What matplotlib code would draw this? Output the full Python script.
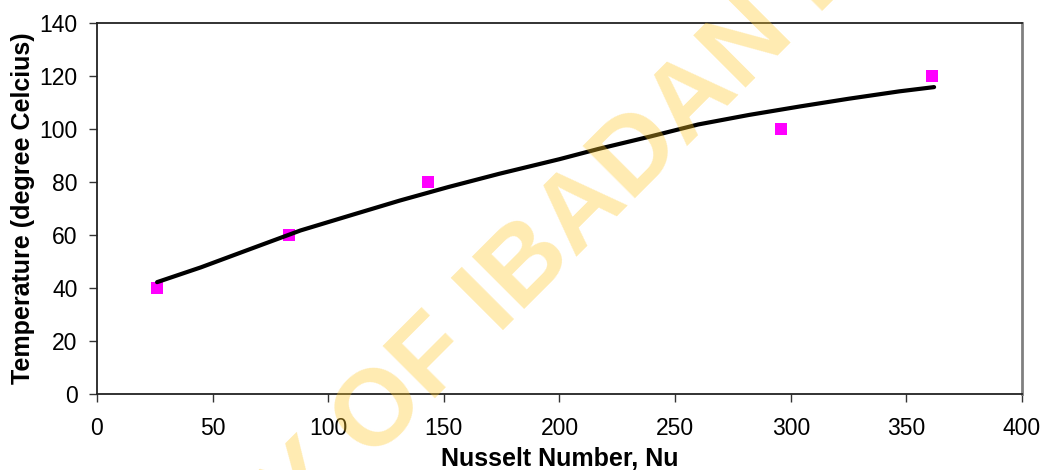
import matplotlib
matplotlib.use('Agg')
import matplotlib.pyplot as plt

# ==== data ====
nu_points = [26, 83, 143, 296, 361]
temp_points = [40, 60, 80, 100, 120]

nu_fit = [26, 45, 66, 88, 110, 131, 152, 174, 200, 217, 239, 260, 282, 304, 325, 347, 362]
temp_fit = [42.1, 47.7, 54.5, 61.6, 67.4, 72.9, 78.0, 83.0, 88.5, 92.4, 97.0, 101.6,
            105.2, 108.4, 111.3, 114.1, 115.7]

x_ticks = [0, 50, 100, 150, 200, 250, 300, 350, 400]
y_ticks = [0, 20, 40, 60, 80, 100, 120, 140]

plt.rcParams['font.family'] = ['Liberation Sans', 'DejaVu Sans']

fig = plt.figure(figsize=(10.47, 4.70), dpi=100)
ax = fig.add_axes([0.0926, 0.1623, 0.9761 - 0.0926, 0.9517 - 0.1623])

ax.plot(nu_points, temp_points, linestyle='none', marker='s', markersize=8.6,
        color='#FF00FF', markeredgewidth=0, zorder=2)
ax.plot(nu_fit, temp_fit, color='black', lw=3, solid_capstyle='round', zorder=3)

ax.set_xlim(0, 400)
ax.set_ylim(0, 140)
ax.set_xticks(x_ticks)
ax.set_yticks(y_ticks)
ax.tick_params(axis='both', direction='out', length=6, width=1, color='#333333',
               labelsize=16.5)
ax.tick_params(axis='x', pad=11)
ax.tick_params(axis='y', pad=8)

for side in ['left', 'bottom', 'top']:
    ax.spines[side].set_color('#222222')
    ax.spines[side].set_linewidth(1.3)
ax.spines['right'].set_color('#808080')
ax.spines['right'].set_linewidth(2)

ax.set_xlabel('Nusselt Number, Nu', fontsize=18, fontweight='bold', labelpad=4.5)
ax.set_ylabel('Temperature (degree Celcius)', fontsize=18, fontweight='bold', labelpad=3)

# watermark
fig.text(0.481, 0.382, 'UNIVERSITY OF IBADAN LIBRARY', fontsize=78, fontweight='bold',
         color='#FFC828', alpha=0.36, rotation=45, rotation_mode='anchor',
         ha='center', va='center', zorder=10)

fig.savefig('out.png', dpi=100)
